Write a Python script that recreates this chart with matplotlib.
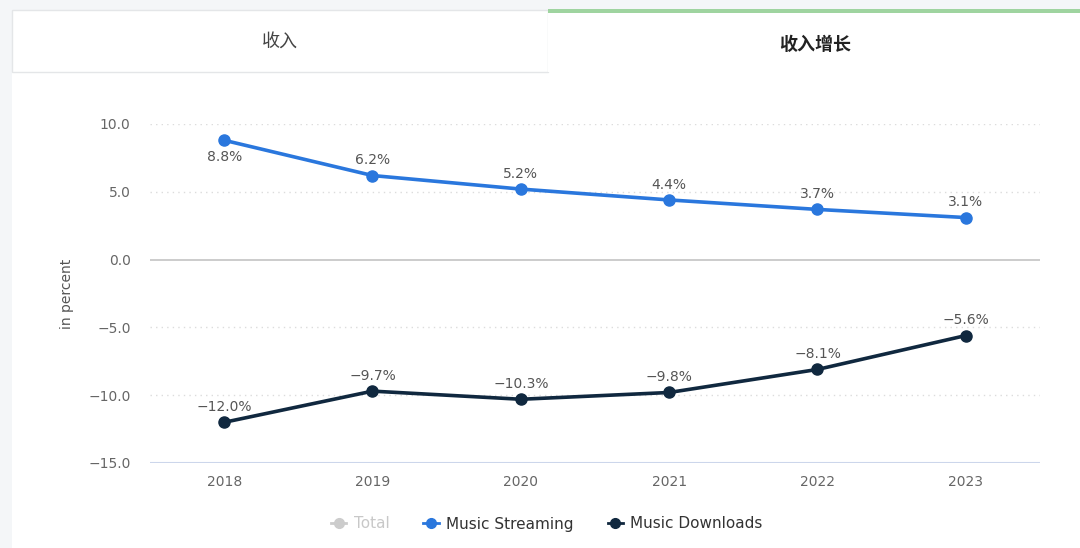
import matplotlib
matplotlib.use("Agg")
import matplotlib.pyplot as plt
from matplotlib.patches import Rectangle
from matplotlib.lines import Line2D
from matplotlib.ticker import FuncFormatter

plt.rcParams['font.family'] = ['DejaVu Sans', 'Noto Sans CJK SC']

years = [2018, 2019, 2020, 2021, 2022, 2023]
streaming = [8.8, 6.2, 5.2, 4.4, 3.7, 3.1]
downloads = [-12.0, -9.7, -10.3, -9.8, -8.1, -5.6]
yticks = [10, 5, 0, -5, -10, -15]
tab_labels = ["收入", "收入增长"]
legend_labels = ["Total", "Music Streaming", "Music Downloads"]

W, H = 1080, 548
fig = plt.figure(figsize=(W / 100, H / 100), dpi=100)
fig.patch.set_facecolor("#f4f6f8")

def px_rect(x0, y0, x1, y1, **kw):
    r = Rectangle((x0 / W, 1 - y1 / H), (x1 - x0) / W, (y1 - y0) / H,
                  transform=fig.transFigure, **kw)
    fig.patches.append(r)

# panel background
px_rect(12, 72, 1080, 548, facecolor="white", edgecolor="none", zorder=-3)
# left tab
px_rect(12, 10, 548, 72, facecolor="white", edgecolor="#e4e6e8", linewidth=1, zorder=-3)
# right tab (active)
px_rect(548, 10, 1080, 72, facecolor="white", edgecolor="none", zorder=-3)
px_rect(548, 9, 1080, 13, facecolor="#9fd4a0", edgecolor="none", zorder=-2)

fig.text(280 / W, 1 - 42 / H, tab_labels[0], ha="center", va="center",
         fontsize=13, color="#444444", family=['Noto Sans CJK SC', 'DejaVu Sans'])
fig.text(815 / W, 1 - 44 / H, tab_labels[1], ha="center", va="center",
         fontsize=13, color="#222222", fontweight="bold",
         family=['Noto Sans CJK SC', 'DejaVu Sans'])

ax = fig.add_axes([150 / W, 1 - 463 / H, (1040 - 150) / W, (463 - 124) / H])
ax.set_facecolor("none")
ax.set_zorder(5)

blue = "#2a77dd"
navy = "#10283f"

ax.plot(years, streaming, color=blue, lw=2.6, marker="o", ms=8, zorder=5, clip_on=False)
ax.plot(years, downloads, color=navy, lw=2.6, marker="o", ms=8, zorder=5, clip_on=False)

def fmt(v):
    return f"{v:.1f}%".replace("-", "−")

for i, (x, v) in enumerate(zip(years, streaming)):
    off = -12 if i == 0 else 11
    ax.annotate(fmt(v), (x, v), xytext=(0, off), textcoords="offset points",
                ha="center", va="center", fontsize=10, color="#555555", zorder=6)
for x, v in zip(years, downloads):
    ax.annotate(fmt(v), (x, v), xytext=(0, 11), textcoords="offset points",
                ha="center", va="center", fontsize=10, color="#555555", zorder=6)

ax.set_xlim(2017.5, 2023.5)
ax.set_ylim(-15, 10)
ax.set_xticks(years)
ax.set_yticks(yticks)
ax.yaxis.set_major_formatter(FuncFormatter(lambda v, p: f"{v:.1f}".replace("-", "−")))

for t in [10, 5, -5, -10]:
    ax.axhline(t, color="#dcdcdc", lw=1, ls=(0, (1, 3)), zorder=1)
ax.axhline(0, color="#c4c4c4", lw=1.2, zorder=2)
ax.axhline(-15, color="#ccd6eb", lw=1.5, zorder=2)

for s in ax.spines.values():
    s.set_visible(False)
ax.tick_params(axis="both", length=0, labelsize=10, colors="#666666")
ax.tick_params(axis="y", pad=14)
ax.tick_params(axis="x", pad=9)
ax.set_ylabel("in percent", fontsize=10, color="#555555", labelpad=10)

handles = [
    Line2D([], [], color="#cccccc", lw=2, marker="o", ms=7),
    Line2D([], [], color=blue, lw=2, marker="o", ms=7),
    Line2D([], [], color=navy, lw=2, marker="o", ms=7),
]
leg = fig.legend(handles, legend_labels, loc="center", bbox_to_anchor=(547 / W, 1 - 524 / H),
                 ncol=3, frameon=False, fontsize=11, handlelength=1.0,
                 columnspacing=2.2, handletextpad=0.5)
leg.set_zorder(10)
cols = ["#c8c8c8", "#333333", "#333333"]
for t, c in zip(leg.get_texts(), cols):
    t.set_color(c)

fig.savefig("out.png", dpi=100, facecolor=fig.get_facecolor())
